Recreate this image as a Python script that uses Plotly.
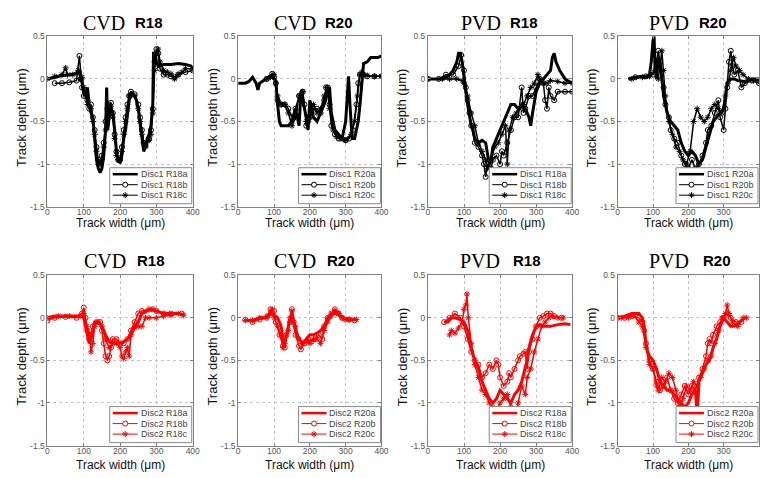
import plotly.graph_objects as go

W, H = 766, 478

# ---------------- data: (track width µm, track depth µm) ----------------
# Disc1 CVD R18
cvd18_d1_a = [(0,0),(20,0.02),(40,0.04),(60,0.05),(80,0.06),(90,0.08),(95,-0.05),(100,-0.15),(105,-0.2),(110,-0.1),(115,-0.3),(120,-0.4),(125,-0.45),(130,-0.7),(135,-0.95),(140,-1.05),(145,-1.1),(150,-1.05),(155,-0.9),(160,-0.6),(163,-0.1),(166,-0.6),(170,-0.45),(175,-0.35),(180,-0.4),(185,-0.6),(190,-0.85),(195,-0.97),(200,-0.98),(205,-0.9),(210,-0.7),(215,-0.6),(220,-0.4),(225,-0.25),(230,-0.2),(235,-0.17),(240,-0.2),(245,-0.25),(250,-0.35),(255,-0.5),(260,-0.7),(265,-0.85),(270,-0.8),(275,-0.7),(280,-0.65),(285,-0.55),(290,-0.3),(292,0.3),(297,0.3),(300,0.2),(305,0.15),(320,0.17),(340,0.17),(360,0.18),(380,0.17),(395,0.15),(400,0.12)]
cvd18_d1_b = [(20,-0.05),(40,-0.05),(60,-0.04),(80,-0.02),(88,0.27),(92,0.0),(95,-0.1),(100,-0.2),(105,-0.15),(110,-0.25),(115,-0.35),(120,-0.3),(125,-0.45),(130,-0.6),(135,-0.8),(140,-0.95),(145,-0.98),(150,-0.9),(155,-0.75),(160,-0.5),(165,-0.35),(170,-0.3),(175,-0.28),(180,-0.4),(185,-0.65),(190,-0.85),(195,-0.95),(200,-0.95),(205,-0.8),(210,-0.6),(215,-0.45),(220,-0.3),(225,-0.2),(230,-0.15),(240,-0.18),(250,-0.3),(255,-0.45),(260,-0.6),(265,-0.75),(270,-0.78),(280,-0.7),(285,-0.6),(290,-0.35),(295,0.2),(300,0.35),(305,0.3),(310,0.12),(320,0.05),(330,0.05),(340,0.03),(350,0.02),(360,0.05),(380,0.08),(400,0.1)]
cvd18_d1_c = [(0,0.0),(20,0.03),(40,0.05),(50,0.13),(55,0.05),(70,0.05),(85,0.1),(90,0.0),(95,0.02),(100,-0.1),(105,-0.2),(110,-0.3),(120,-0.35),(125,-0.5),(130,-0.65),(135,-0.85),(140,-1.0),(145,-1.0),(150,-0.95),(155,-0.8),(160,-0.6),(165,-0.45),(170,-0.35),(175,-0.32),(180,-0.45),(185,-0.7),(190,-0.9),(195,-0.95),(200,-0.93),(205,-0.85),(210,-0.65),(215,-0.5),(220,-0.35),(225,-0.2),(230,-0.18),(240,-0.2),(250,-0.35),(255,-0.5),(260,-0.65),(265,-0.75),(270,-0.8),(280,-0.72),(285,-0.65),(290,-0.4),(295,0.1),(300,0.3),(305,0.35),(310,0.2),(320,0.1),(330,0.08),(340,0.06),(350,0.0),(360,0.05),(370,0.08),(380,0.12),(400,0.12)]

# Disc1 CVD R20
cvd20_d1_a = [(0,-0.05),(20,-0.05),(30,-0.03),(40,0.02),(50,-0.05),(55,-0.13),(60,-0.05),(70,-0.02),(80,0.0),(95,0.05),(100,0.0),(105,-0.02),(110,-0.3),(115,-0.5),(120,-0.55),(130,-0.55),(140,-0.55),(150,-0.5),(160,-0.35),(170,-0.55),(175,-0.15),(180,-0.25),(190,-0.45),(195,-0.6),(200,-0.25),(205,-0.35),(210,-0.45),(220,-0.5),(230,-0.4),(240,-0.3),(250,-0.15),(255,-0.1),(260,-0.4),(270,-0.6),(280,-0.65),(290,-0.7),(300,-0.5),(305,-0.2),(308,0.03),(312,-0.3),(318,-0.7),(325,-0.7),(335,-0.5),(340,-0.3),(345,0.0),(350,0.18),(360,0.2),(370,0.25),(390,0.25),(400,0.27)]
cvd20_d1_b = [(80,0.0),(95,0.06),(100,0.02),(105,-0.05),(110,-0.25),(120,-0.3),(130,-0.3),(140,-0.35),(150,-0.45),(160,-0.35),(170,-0.2),(180,-0.15),(185,-0.3),(190,-0.55),(195,-0.5),(200,-0.45),(210,-0.35),(220,-0.35),(230,-0.4),(240,-0.25),(245,-0.1),(250,-0.1),(255,-0.3),(260,-0.55),(270,-0.65),(280,-0.7),(290,-0.7),(300,-0.72),(310,-0.7),(320,-0.6),(330,-0.3),(335,-0.05),(340,0.05),(350,0.05),(360,0.03),(380,0.03),(400,0.03)]
cvd20_d1_c = [(80,0.0),(90,0.02),(100,0.05),(105,-0.05),(110,-0.2),(120,-0.3),(130,-0.3),(140,-0.4),(150,-0.55),(160,-0.45),(170,-0.2),(180,-0.15),(190,-0.5),(200,-0.45),(210,-0.3),(220,-0.4),(230,-0.35),(240,-0.2),(248,-0.1),(255,-0.35),(265,-0.6),(275,-0.68),(285,-0.7),(300,-0.72),(315,-0.65),(325,-0.5),(333,-0.2),(340,0.05),(345,0.08),(360,0.04),(380,0.03),(400,0.03)]

# Disc1 PVD R18
pvd18_d1_a = [(0,0.0),(20,0.0),(40,0.0),(50,0.02),(60,0.05),(70,0.1),(80,0.2),(85,0.3),(90,0.3),(95,0.2),(100,0.0),(105,-0.15),(110,-0.3),(115,-0.45),(120,-0.55),(125,-0.6),(130,-0.7),(140,-0.75),(150,-0.72),(160,-0.75),(165,-0.9),(170,-1.0),(175,-0.95),(180,-0.8),(190,-0.7),(200,-0.6),(210,-0.5),(220,-0.4),(230,-0.3),(240,-0.3),(250,-0.35),(260,-0.3),(270,-0.35),(280,-0.45),(285,-0.55),(290,-0.4),(300,-0.15),(310,-0.05),(320,0.0),(330,0.05),(340,0.1),(345,0.25),(350,0.3),(355,0.2),(365,0.1),(380,0.0),(400,-0.05)]
pvd18_d1_b = [(0,0.0),(30,0.0),(50,0.05),(70,0.05),(85,0.15),(92,0.28),(100,0.1),(105,-0.1),(110,-0.25),(115,-0.4),(120,-0.55),(130,-0.75),(140,-0.8),(150,-0.9),(155,-1.0),(160,-1.15),(165,-1.0),(175,-1.05),(180,-0.95),(190,-0.9),(200,-1.0),(205,-0.85),(210,-0.9),(220,-0.75),(230,-0.6),(240,-0.45),(250,-0.45),(260,-0.1),(265,-0.4),(270,-0.35),(280,-0.2),(290,-0.2),(300,-0.1),(310,0.0),(320,-0.05),(325,-0.25),(330,-0.35),(335,-0.1),(340,-0.2),(350,-0.25),(360,-0.15),(380,-0.15),(400,-0.15)]
pvd18_d1_c = [(0,0.0),(40,0.0),(60,0.0),(80,0.0),(95,-0.02),(100,-0.05),(110,-0.2),(120,-0.4),(130,-0.55),(140,-0.75),(150,-0.85),(160,-0.95),(165,-1.05),(175,-0.95),(185,-0.8),(195,-0.75),(205,-0.65),(215,-0.55),(220,-1.0),(225,-0.6),(235,-0.45),(245,-0.4),(255,-0.35),(265,-0.3),(275,-0.2),(285,-0.1),(295,-0.05),(305,0.05),(310,0.0),(320,-0.05),(330,-0.05),(340,-0.02),(360,-0.03),(380,-0.05),(400,-0.05)]

# Disc1 PVD R20
pvd20_d1_a = [(30,0.0),(50,0.02),(70,0.03),(80,0.02),(90,0.05),(95,0.2),(100,0.45),(103,0.5),(106,0.1),(110,0.0),(115,0.25),(120,0.2),(125,0.0),(130,-0.2),(140,-0.4),(150,-0.5),(160,-0.55),(170,-0.6),(180,-0.75),(190,-0.85),(200,-0.9),(210,-0.85),(220,-0.9),(230,-1.0),(240,-0.95),(250,-0.8),(260,-0.65),(270,-0.5),(280,-0.45),(290,-0.4),(300,-0.35),(305,-0.2),(310,-0.05),(320,0.0),(330,0.0),(340,-0.02),(360,-0.03),(380,0.0),(400,0.0)]
pvd20_d1_b = [(50,0.02),(80,0.03),(100,0.05),(110,0.2),(115,0.33),(120,0.2),(130,-0.1),(135,-0.3),(145,-0.45),(150,-0.6),(160,-0.7),(170,-0.75),(180,-0.9),(190,-1.0),(200,-1.05),(210,-0.95),(220,-1.05),(230,-1.0),(240,-0.9),(250,-0.75),(255,-0.6),(265,-0.55),(275,-0.4),(285,-0.25),(290,-0.45),(300,-0.6),(305,-0.35),(310,-0.1),(315,0.2),(320,0.33),(325,0.15),(330,0.05),(340,0.1),(350,-0.1),(360,-0.05),(380,-0.02),(400,-0.05)]
pvd20_d1_c = [(40,0.0),(70,0.02),(90,0.03),(105,0.1),(115,0.0),(125,0.33),(130,0.1),(135,-0.2),(145,-0.5),(155,-0.65),(165,-0.8),(175,-0.85),(185,-0.95),(195,-1.0),(205,-0.85),(215,-0.5),(225,-0.35),(235,-0.45),(245,-0.5),(255,-0.45),(265,-0.35),(275,-0.3),(285,-0.35),(295,-0.4),(305,-0.2),(312,-0.05),(320,0.1),(328,0.25),(335,0.15),(345,0.1),(355,0.05),(370,0.0),(385,-0.02),(400,-0.02)]

# Disc2 CVD R18
cvd18_d2_a = [(0,0.0),(20,0.02),(40,0.02),(60,0.02),(80,0.02),(95,0.02),(100,0.0),(105,-0.1),(110,-0.2),(115,-0.3),(120,-0.25),(125,-0.15),(130,-0.05),(140,-0.05),(150,-0.1),(160,-0.2),(170,-0.28),(180,-0.3),(190,-0.3),(200,-0.3),(210,-0.28),(220,-0.25),(230,-0.2),(240,-0.1),(250,-0.05),(260,0.05),(270,0.07),(280,0.1),(290,0.1),(300,0.08),(320,0.05),(340,0.05),(360,0.05),(375,0.04)]
cvd18_d2_b = [(0,-0.03),(20,0.0),(50,0.01),(80,0.0),(95,0.05),(100,0.12),(105,0.0),(110,-0.15),(115,-0.25),(120,-0.2),(125,-0.1),(135,-0.05),(145,-0.05),(150,-0.15),(155,-0.3),(160,-0.45),(165,-0.5),(170,-0.45),(175,-0.35),(180,-0.25),(190,-0.25),(200,-0.3),(210,-0.3),(220,-0.25),(230,-0.15),(240,-0.05),(250,0.05),(260,0.08),(280,0.1),(290,0.1),(300,0.08),(320,0.05),(340,0.05),(370,0.05)]
cvd18_d2_c = [(0,0.0),(30,0.02),(60,0.02),(90,0.02),(100,0.05),(108,-0.1),(115,-0.2),(120,-0.4),(125,-0.3),(130,-0.1),(140,-0.05),(150,-0.1),(160,-0.25),(170,-0.35),(180,-0.3),(190,-0.3),(200,-0.35),(205,-0.45),(210,-0.48),(215,-0.4),(220,-0.35),(225,-0.45),(230,-0.2),(240,-0.12),(250,-0.1),(260,-0.1),(270,0.0),(280,0.0),(300,0.0),(320,0.02),(340,0.03),(360,0.05),(375,0.03)]

# Disc2 CVD R20
cvd20_d2_a = [(20,-0.03),(40,-0.03),(60,0.0),(80,0.0),(90,0.05),(100,0.03),(110,0.0),(120,-0.1),(125,-0.25),(130,-0.3),(140,-0.1),(145,0.0),(150,0.05),(155,-0.05),(160,-0.15),(170,-0.25),(180,-0.3),(190,-0.25),(200,-0.2),(210,-0.2),(220,-0.18),(230,-0.15),(240,-0.1),(250,0.0),(260,0.05),(270,0.05),(280,0.05),(290,0.0),(300,-0.02),(320,-0.02),(330,-0.02)]
cvd20_d2_b = [(20,-0.02),(40,-0.05),(60,-0.02),(80,0.0),(90,0.1),(100,0.08),(105,-0.05),(115,-0.2),(125,-0.33),(130,-0.35),(135,-0.2),(145,-0.05),(150,0.1),(155,-0.05),(160,-0.2),(170,-0.33),(175,-0.37),(185,-0.3),(195,-0.25),(205,-0.28),(215,-0.25),(225,-0.2),(235,-0.25),(240,-0.1),(250,0.0),(260,0.05),(270,0.1),(280,0.05),(290,0.0),(300,-0.02),(310,-0.02),(325,-0.03)]
cvd20_d2_c = [(20,-0.03),(40,-0.03),(60,0.0),(80,0.02),(90,0.05),(95,0.1),(100,0.0),(110,-0.1),(120,-0.2),(125,-0.35),(130,-0.3),(140,-0.15),(145,0.0),(150,0.08),(160,-0.1),(170,-0.25),(180,-0.3),(190,-0.28),(200,-0.3),(210,-0.25),(220,-0.25),(230,-0.3),(240,-0.15),(250,-0.05),(260,0.02),(270,0.08),(280,0.05),(290,0.0),(310,-0.02),(330,-0.02)]

# Disc2 PVD R18
pvd18_d2_a = [(45,-0.05),(55,-0.05),(65,0.0),(75,0.0),(90,-0.02),(100,-0.05),(110,-0.15),(120,-0.35),(130,-0.5),(140,-0.6),(150,-0.75),(160,-0.85),(170,-0.95),(180,-1.0),(190,-0.95),(200,-0.85),(210,-0.9),(220,-0.95),(230,-1.0),(240,-0.9),(250,-0.85),(260,-0.75),(270,-0.6),(275,-0.5),(280,-0.35),(290,-0.2),(300,-0.1),(310,-0.08),(320,-0.1),(330,-0.1),(340,-0.1),(360,-0.08),(380,-0.07),(395,-0.08)]
pvd18_d2_b = [(45,-0.05),(60,0.0),(75,0.05),(90,0.0),(100,-0.1),(110,-0.25),(120,-0.4),(130,-0.5),(140,-0.55),(150,-0.7),(160,-0.65),(170,-0.55),(180,-0.6),(190,-0.5),(195,-0.55),(200,-0.7),(210,-0.8),(220,-0.75),(225,-0.65),(230,-0.7),(240,-0.6),(250,-0.5),(255,-0.45),(265,-0.42),(270,-0.4),(275,-0.6),(280,-0.4),(290,-0.25),(300,-0.1),(310,0.0),(320,0.02),(330,0.05),(340,0.05),(350,0.02),(370,0.0)]
pvd18_d2_c = [(60,-0.2),(65,-0.15),(75,-0.18),(85,-0.12),(95,-0.05),(100,0.1),(105,0.15),(108,0.28),(112,0.0),(120,-0.3),(130,-0.55),(140,-0.7),(150,-0.85),(160,-0.9),(170,-1.0),(180,-1.05),(190,-1.1),(200,-1.0),(210,-0.95),(220,-0.9),(230,-1.05),(240,-1.2),(250,-1.0),(260,-0.8),(270,-0.9),(275,-0.7),(285,-0.6),(295,-0.4),(305,-0.25),(315,-0.1),(325,-0.05),(335,0.0),(345,0.02),(360,0.0),(375,0.0)]

# Disc2 PVD R20
pvd20_d2_a = [(0,0.0),(20,0.02),(40,0.05),(60,0.05),(70,0.0),(75,-0.1),(80,-0.3),(85,-0.4),(90,-0.45),(100,-0.5),(110,-0.6),(120,-0.75),(130,-0.8),(140,-0.85),(150,-0.85),(160,-0.9),(170,-0.95),(180,-1.0),(190,-1.05),(200,-1.0),(210,-0.9),(220,-0.85),(225,-1.15),(230,-0.75),(240,-0.65),(250,-0.55),(260,-0.5),(270,-0.35),(280,-0.25),(290,-0.1),(300,0.0),(310,-0.05),(320,-0.1),(330,-0.1),(345,-0.05),(360,0.0)]
pvd20_d2_b = [(0,0.0),(20,0.0),(40,0.02),(60,0.0),(70,-0.05),(75,-0.15),(80,-0.3),(90,-0.5),(100,-0.6),(110,-0.75),(120,-0.85),(130,-0.8),(140,-0.7),(150,-0.85),(160,-0.95),(170,-1.0),(180,-0.9),(190,-0.8),(200,-0.9),(210,-0.8),(220,-0.85),(230,-0.7),(240,-0.6),(250,-0.45),(255,-0.3),(260,-0.25),(265,-0.3),(270,-0.2),(280,-0.1),(290,-0.05),(300,0.0),(310,0.05),(320,0.0),(335,-0.05),(350,-0.05)]
pvd20_d2_c = [(10,0.0),(30,0.0),(45,0.03),(60,-0.05),(70,-0.1),(80,-0.35),(90,-0.55),(100,-0.6),(110,-0.8),(115,-0.85),(125,-0.7),(135,-0.75),(145,-0.65),(155,-0.7),(165,-0.85),(175,-1.05),(185,-0.95),(195,-0.8),(205,-0.85),(215,-0.75),(225,-0.8),(235,-0.7),(245,-0.6),(255,-0.5),(265,-0.45),(275,-0.3),(285,-0.15),(295,0.0),(305,0.05),(310,0.15),(315,0.05),(325,-0.05),(340,-0.1),(355,0.0),(365,0.0)]

x_ticks = [0, 100, 200, 300, 400]
y_ticks = [0.5, 0, -0.5, -1, -1.5]
y_tick_labels = ["0.5", "0", "-0.5", "-1", "-1.5"]

# ---------------- layout config ----------------
panels = [
    ((cvd18_d1_a, cvd18_d1_b, cvd18_d1_c), ("Disc1 R18a", "Disc1 R18b", "Disc1 R18c"), "#000000", (46, 193, 32, 206), ("CVD", "R18"), (80, 133, 18)),
    ((cvd20_d1_a, cvd20_d1_b, cvd20_d1_c), ("Disc1 R20a", "Disc1 R20b", "Disc1 R20c"), "#000000", (239, 384, 32, 206), ("CVD", "R20"), (273, 325, 18)),
    ((pvd18_d1_a, pvd18_d1_b, pvd18_d1_c), ("Disc1 R18a", "Disc1 R18b", "Disc1 R18c"), "#000000", (431, 577, 32, 206), ("PVD", "R18"), (462, 512, 18)),
    ((pvd20_d1_a, pvd20_d1_b, pvd20_d1_c), ("Disc1 R20a", "Disc1 R20b", "Disc1 R20c"), "#000000", (623, 766, 32, 206), ("PVD", "R20"), (653, 703, 18)),
    ((cvd18_d2_a, cvd18_d2_b, cvd18_d2_c), ("Disc2 R18a", "Disc2 R18b", "Disc2 R18c"), "#ff0000", (46, 193, 276, 450), ("CVD", "R18"), (81, 135, 261)),
    ((cvd20_d2_a, cvd20_d2_b, cvd20_d2_c), ("Disc2 R20a", "Disc2 R20b", "Disc2 R20c"), "#ff0000", (239, 384, 276, 450), ("CVD", "R20"), (273, 327, 261)),
    ((pvd18_d2_a, pvd18_d2_b, pvd18_d2_c), ("Disc2 R18a", "Disc2 R18b", "Disc2 R18c"), "#ff0000", (431, 577, 276, 450), ("PVD", "R18"), (461, 515, 261)),
    ((pvd20_d2_a, pvd20_d2_b, pvd20_d2_c), ("Disc2 R20a", "Disc2 R20b", "Disc2 R20c"), "#ff0000", (623, 766, 276, 450), ("PVD", "R20"), (653, 707, 261)),
]

SANS = "Liberation Sans, Arial, sans-serif"
SERIF = "Liberation Serif, Times New Roman, serif"
AXC = "#808080"
GRID = "#c4c4c4"

fig = go.Figure()
layout = dict(width=W, height=H, margin=dict(l=0, r=0, t=0, b=0), autosize=False,
              paper_bgcolor="white", plot_bgcolor="white", showlegend=False,
              shapes=[], annotations=[])

for i, (series, names, color, box, words, tpos) in enumerate(panels):
    s = "" if i == 0 else str(i + 1)
    xr, yr = "x" + s, "y" + s
    left, right, top, bottom = box
    layout["xaxis" + s] = dict(
        domain=[left / W, right / W], range=[0, 400], anchor=yr,
        tickvals=x_ticks, ticks="inside", ticklen=3, tickcolor=AXC,
        showline=True, linecolor=AXC, linewidth=1, mirror="ticks",
        showgrid=True, gridcolor=GRID, griddash="dot", gridwidth=1,
        zeroline=False, ticklabelstandoff=-3,
        tickfont=dict(family=SANS, size=8.5, color="#555555"))
    layout["yaxis" + s] = dict(
        domain=[1 - bottom / H, 1 - top / H], range=[-1.5, 0.5], anchor=xr,
        tickvals=y_ticks, ticktext=y_tick_labels, ticks="inside", ticklen=3,
        tickcolor=AXC, showline=True, linecolor=AXC, linewidth=1, mirror="ticks",
        showgrid=True, gridcolor=GRID, griddash="dot", gridwidth=1,
        zeroline=False, tickfont=dict(family=SANS, size=8.5, color="#555555"))

    styles = [
        dict(mode="lines", line=dict(color=color, width=3)),
        dict(mode="lines+markers", line=dict(color=color, width=1.5),
             marker=dict(symbol="circle-open", size=5, color=color, line=dict(width=1))),
        dict(mode="lines+markers", line=dict(color=color, width=1.5),
             marker=dict(symbol="asterisk-open", size=5, color=color, line=dict(width=1))),
    ]
    for pts, name, st in zip(series, names, styles):
        xs = [p[0] for p in pts]
        ys = [p[1] for p in pts]
        fig.add_trace(go.Scatter(x=xs, y=ys, name=name, xaxis=xr, yaxis=yr,
                                 showlegend=False, hoverinfo="skip", **st))

    xd, yd = xr + " domain", yr + " domain"
    # ---- panel titles ----
    layout["annotations"].append(dict(xref="paper", yref="paper", x=tpos[0] / W, y=1 - tpos[2] / H,
                                      xanchor="left", yanchor="middle", showarrow=False, text=words[0],
                                      font=dict(family=SERIF, size=20, color="black")))
    layout["annotations"].append(dict(xref="paper", yref="paper", x=tpos[1] / W, y=1 - tpos[2] / H,
                                      xanchor="left", yanchor="middle", showarrow=False,
                                      text="<b>" + words[1] + "</b>",
                                      font=dict(family=SANS, size=15, color="black")))
    # ---- axis titles ----
    layout["annotations"].append(dict(xref=xd, yref=yd, x=0.5, y=0, yshift=-16 if i < 4 else -19,
                                      xanchor="center", yanchor="middle", showarrow=False,
                                      text="Track width (μm)", font=dict(family=SANS, size=12, color="#111")))
    layout["annotations"].append(dict(xref=xd, yref=yd, x=0, y=0.5, xshift=-26, yshift=4,
                                      xanchor="center", yanchor="middle", showarrow=False, textangle=-90,
                                      text="Track depth (μm)", font=dict(family=SANS, size=13, color="#111")))
    # ---- legend box (pixel offsets from bottom-right corner of the plot) ----
    common = dict(xref=xd, yref=yd, xsizemode="pixel", ysizemode="pixel", xanchor=1, yanchor=0)
    layout["shapes"].append(dict(type="rect", x0=-83, x1=-1, y0=3, y1=39,
                                 fillcolor="white", line=dict(color="#8a8a8a", width=1), **common))
    rows = [32.5, 22, 11.5]
    widths = [2.5, 1, 1]
    for ry, lw, name in zip(rows, widths, names):
        layout["shapes"].append(dict(type="line", x0=-80, x1=-55, y0=ry, y1=ry,
                                     line=dict(color=color, width=lw), **common))
        layout["annotations"].append(dict(xref=xd, yref=yd, x=1, y=0, xshift=-54, yshift=ry,
                                          xanchor="left", yanchor="middle", showarrow=False, text=name,
                                          font=dict(family=SANS, size=9, color="#444")))
    layout["shapes"].append(dict(type="circle", x0=-70, x1=-65, y0=19.5, y1=24.5,
                                 fillcolor="white", line=dict(color=color, width=1), **common))
    layout["shapes"].append(dict(type="path",
                                 path="M-70.5,11.5 L-64.5,11.5 M-67.5,8.5 L-67.5,14.5 M-69.5,9.5 L-65.5,13.5 M-69.5,13.5 L-65.5,9.5",
                                 line=dict(color=color, width=1), **common))

fig.update_layout(**layout)
fig.write_html("out.html",
               config={"displayModeBar": False},
               post_script="document.body.style.margin='0px';document.body.style.overflow='hidden';")
